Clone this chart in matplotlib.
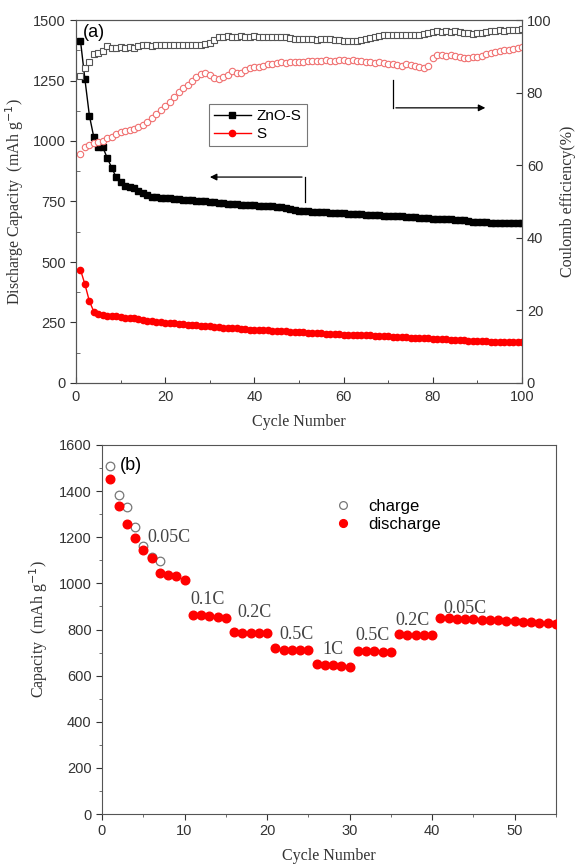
import matplotlib
matplotlib.use("Agg")
import matplotlib.pyplot as plt
from matplotlib.ticker import MultipleLocator

# dados do painel (a)
cycles_a = list(range(1, 101))
zno_s_discharge = [
    1415, 1255, 1105, 1015, 975, 975, 930, 890, 850, 830,
    815, 810, 805, 795, 785, 775, 770, 768, 766, 765,
    763, 762, 760, 758, 756, 755, 753, 752, 750, 749,
    747, 745, 742, 740, 739, 738, 737, 736, 735, 734,
    733, 732, 731, 730, 729, 727, 724, 720, 716, 712,
    710, 709, 708, 707, 706, 705, 704, 703, 702, 701,
    700, 699, 698, 697, 696, 695, 694, 693, 692, 691,
    690, 690, 689, 688, 687, 685, 683, 681, 680, 679,
    678, 677, 677, 676, 675, 674, 672, 669, 666, 665,
    664, 664, 663, 663, 662, 662, 662, 661, 661, 660,
]
s_discharge = [
    468, 408, 338, 295, 285, 280, 277, 277, 275, 272,
    270, 268, 267, 265, 262, 258, 255, 252, 250, 249,
    248, 247, 245, 243, 241, 239, 238, 237, 236, 235,
    233, 231, 229, 228, 227, 226, 224, 222, 221, 220,
    219, 218, 217, 216, 215, 214, 213, 212, 211, 210,
    209, 208, 207, 206, 205, 204, 203, 202, 201, 200,
    199, 199, 198, 198, 197, 197, 196, 195, 194, 193,
    192, 191, 190, 189, 188, 187, 186, 185, 184, 183,
    182, 181, 180, 179, 178, 177, 176, 175, 174, 173,
    172, 172, 171, 171, 170, 170, 169, 169, 168, 168,
]
zno_s_ce = [
    84.5, 86.7, 88.5, 90.5, 91.0, 91.5, 92.8, 92.3, 92.2, 92.5,
    92.3, 92.6, 92.4, 92.7, 93.0, 93.0, 92.9, 93.0, 93.1, 93.0,
    93.0, 93.1, 93.0, 93.1, 93.0, 93.1, 93.2, 93.2, 93.4, 93.6,
    94.5, 95.3, 95.4, 95.5, 95.4, 95.4, 95.5, 95.4, 95.4, 95.5,
    95.4, 95.4, 95.4, 95.3, 95.4, 95.3, 95.2, 95.0, 94.8, 94.7,
    94.7, 94.8, 94.7, 94.6, 94.7, 94.8, 94.7, 94.6, 94.5, 94.3,
    94.2, 94.1, 94.3, 94.5, 94.7, 95.0, 95.3, 95.6, 95.8, 95.9,
    95.8, 95.9, 96.0, 95.9, 95.8, 95.9, 96.0, 96.2, 96.5, 96.8,
    96.9, 96.8, 96.9, 96.8, 96.9, 96.7, 96.5, 96.3, 96.2, 96.3,
    96.4, 96.6, 97.0, 97.1, 97.2, 97.1, 97.2, 97.3, 97.3, 97.4,
]
s_ce = [
    63.1, 65.0, 65.6, 66.0, 66.5, 66.8, 67.4, 67.8, 68.5, 69.2,
    69.4, 69.6, 69.9, 70.4, 71.1, 72.0, 73.0, 74.0, 75.2, 76.3,
    77.5, 78.8, 80.2, 81.2, 82.1, 83.2, 84.4, 85.0, 85.3, 84.8,
    84.0, 83.8, 84.2, 84.8, 86.0, 85.5, 85.3, 86.2, 86.8, 87.1,
    87.0, 87.4, 87.8, 88.0, 88.1, 88.3, 88.2, 88.4, 88.3, 88.5,
    88.4, 88.6, 88.7, 88.6, 88.8, 88.9, 88.7, 88.8, 89.0, 88.9,
    88.7, 88.9, 88.8, 88.6, 88.4, 88.5, 88.2, 88.4, 88.1, 87.9,
    88.0, 87.6, 87.4, 87.8, 87.5, 87.2, 87.0, 86.9, 87.3, 89.6,
    90.3, 90.4, 90.2, 90.3, 90.1, 89.9, 89.6, 89.5, 89.8, 89.7,
    90.2, 90.6, 90.9, 91.2, 91.4, 91.6, 91.8, 92.0, 92.3, 92.6,
]

# dados do painel (b)
cycles_b = list(range(1, 56))
discharge_b = [
    1453, 1336, 1258, 1198, 1145, 1109, 1044, 1036, 1032, 1015,
    863, 863, 860, 853, 852,
    788, 786, 786, 786, 786,
    718, 711, 711, 710, 709,
    650, 648, 645, 643, 639,
    707, 706, 705, 704, 703,
    780, 777, 776, 776, 775,
    850, 848, 847, 846, 845, 843, 842, 840, 838, 836, 834, 832, 830, 828, 825,
]
cycles_charge = [1, 2, 3, 4, 5, 6, 7]
charge_b = [1509, 1383, 1333, 1243, 1162, 1116, 1097]
rate_labels = ["0.05C", "0.1C", "0.2C", "0.5C", "1C", "0.5C", "0.2C", "0.05C"]
rate_label_x = [5.5, 10.7, 16.4, 21.5, 26.7, 30.7, 35.6, 41.4]
rate_label_y = [1201, 932, 872, 780, 715, 776, 841, 893]

sans = ["Liberation Sans", "DejaVu Sans"]
serif = ["Liberation Serif", "DejaVu Serif"]
spine_color = "#555555"
text_color = "#333333"
tick_fs = 10.5

fig = plt.figure(figsize=(5.75, 8.65), dpi=100)

# ---------- painel (a) ----------
ax = fig.add_axes([76 / 575, 1 - 383 / 865, 446 / 575, 363 / 865])
ax2 = ax.twinx()

ax.plot(cycles_a, zno_s_discharge, "-s", color="black", ms=4.5, lw=1.0, label="ZnO-S", zorder=3)
ax.plot(cycles_a, s_discharge, "-o", color="#ff0000", ms=4.5, lw=1.0, label="S", zorder=3)
ax2.plot(cycles_a, zno_s_ce, "s", mfc="white", mec="#555555", mew=0.8, ms=4.2, ls="none")
ax2.plot(cycles_a, s_ce, "o", mfc="white", mec="#f07070", mew=0.8, ms=4.6, ls="none")

ax.set_xlim(0, 100)
ax.set_ylim(0, 1500)
ax2.set_ylim(0, 100)
ax.xaxis.set_major_locator(MultipleLocator(20))
ax.xaxis.set_minor_locator(MultipleLocator(10))
ax.yaxis.set_major_locator(MultipleLocator(250))
ax.yaxis.set_minor_locator(MultipleLocator(125))
ax2.yaxis.set_major_locator(MultipleLocator(20))

ax.tick_params(axis="y", which="major", direction="out", length=4, colors=text_color, labelsize=tick_fs)
ax.tick_params(axis="y", which="minor", direction="in", length=3, color=spine_color)
ax.tick_params(axis="x", which="both", direction="in", colors=text_color, labelsize=tick_fs, pad=5)
ax.tick_params(axis="x", which="major", length=4)
ax.tick_params(axis="x", which="minor", length=2)
ax2.tick_params(axis="y", direction="in", length=4, colors=text_color, labelsize=tick_fs)
for a in (ax, ax2):
    for s in a.spines.values():
        s.set_color(spine_color)
    for lab in a.get_xticklabels() + a.get_yticklabels():
        lab.set_family(sans)
# o "0" da direita fica um pouco acima para não colidir com "100"
ax2.get_yticklabels()[0].set_va("bottom")

ax.set_xlabel("Cycle Number", family=serif, fontsize=11.5, color=text_color, labelpad=7)
ax.set_ylabel("Discharge Capacity  (mAh g$^{-1}$)", family=serif, fontsize=11.5, color=text_color, labelpad=5)
ax2.set_ylabel("Coulomb efficiency(%)", family=serif, fontsize=11.5, color=text_color, labelpad=6)
ax.text(0.015, 0.99, "(a)", transform=ax.transAxes, family=sans, fontsize=13, va="top", ha="left")

h, l = ax.get_legend_handles_labels()
leg = ax2.legend(h, l, loc="upper left", bbox_to_anchor=(0.28, 0.79), prop={"family": sans, "size": 11},
                 frameon=True, fancybox=False, edgecolor="#555555", borderpad=0.35, handlelength=2.4,
                 labelspacing=0.25, handletextpad=0.4)
leg.get_frame().set_linewidth(0.8)

# setas
ax.plot([51.3, 51.3], [748, 851], color="black", lw=0.9)
ax.annotate("", xy=(29.4, 851), xytext=(51.3, 851),
            arrowprops=dict(arrowstyle="-|>", color="black", lw=0.9, mutation_scale=10))
ax2.plot([71.1, 71.1], [83.5, 75.8], color="black", lw=0.9)
ax2.annotate("", xy=(92.4, 75.8), xytext=(71.1, 75.8),
             arrowprops=dict(arrowstyle="-|>", color="black", lw=0.9, mutation_scale=10))

# ---------- painel (b) ----------
bx = fig.add_axes([102 / 575, 1 - 814 / 865, 454 / 575, 369 / 865])
bx.plot(cycles_charge, charge_b, "o", mfc="white", mec="#777777", mew=0.9, ms=6.2, ls="none", label="charge", zorder=2)
bx.plot(cycles_b, discharge_b, "o", color="#ff0000", ms=6.2, ls="none", label="discharge", zorder=3)

for txt, x, y in zip(rate_labels, rate_label_x, rate_label_y):
    bx.text(x, y, txt, family=serif, fontsize=13, color="#444444", ha="left", va="center")
bx.text(2.2, 1513, "(b)", family=sans, fontsize=13, ha="left", va="center")

bx.set_xlim(0, 55)
bx.set_ylim(0, 1600)
bx.xaxis.set_major_locator(MultipleLocator(10))
bx.xaxis.set_minor_locator(MultipleLocator(5))
bx.yaxis.set_major_locator(MultipleLocator(200))
bx.yaxis.set_minor_locator(MultipleLocator(100))
bx.tick_params(which="both", direction="out", colors=text_color, labelsize=tick_fs)
bx.tick_params(which="major", length=4)
bx.tick_params(which="minor", length=2.5, color=spine_color)
for s in bx.spines.values():
    s.set_color(spine_color)
for lab in bx.get_xticklabels() + bx.get_yticklabels():
    lab.set_family(sans)

bx.set_xlabel("Cycle Number", family=serif, fontsize=11.5, color=text_color, labelpad=7)
bx.set_ylabel("Capacity  (mAh g$^{-1}$)", family=serif, fontsize=11.5, color=text_color, labelpad=6)
bx.legend(loc="upper left", bbox_to_anchor=(0.48, 0.895), frameon=False, prop={"family": sans, "size": 12},
          handlelength=1.0, handletextpad=1.0, labelspacing=0.2, markerscale=0.9)

fig.savefig("out.png", dpi=100)
